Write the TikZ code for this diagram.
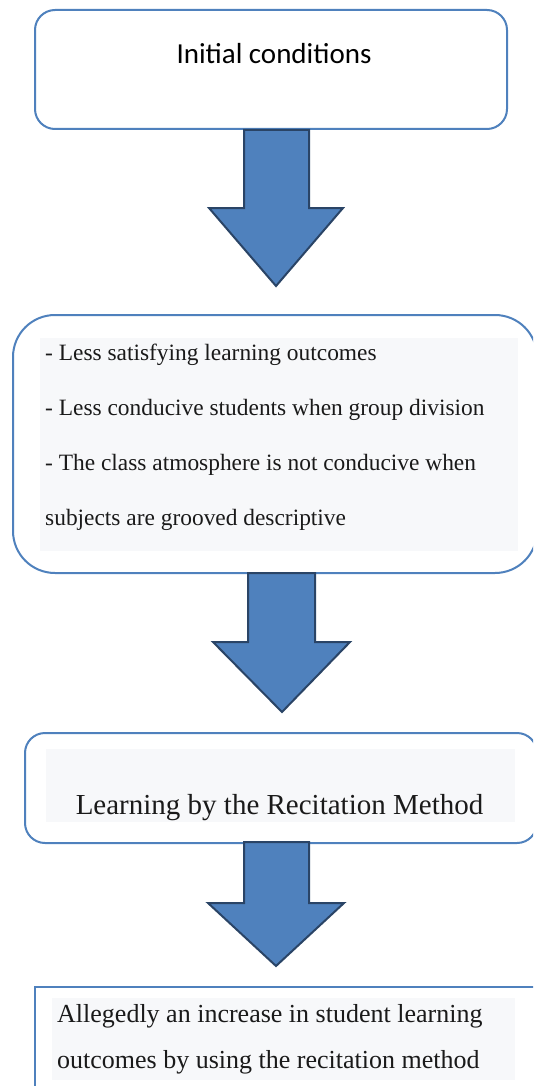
\documentclass[tikz,border=0pt]{standalone}
\usepackage{fontspec}
\setmainfont{Liberation Serif}
\newfontfamily\calibri{Carlito}
\definecolor{boxblue}{HTML}{4F81BD}
\definecolor{arrowedge}{HTML}{2A4466}
\definecolor{panelgrey}{HTML}{F7F8FA}
\definecolor{inktext}{HTML}{1A1A1A}
\tikzset{
  flowbox/.style={draw=boxblue, line width=2pt, fill=white, rectangle, inner sep=0pt, outer sep=0pt},
  panel/.style={fill=panelgrey, draw=none, rectangle, inner sep=0pt, outer sep=0pt},
  blockarrow/.style={fill=boxblue, draw=arrowedge, line width=2pt, line join=miter},
  serifline/.style={anchor=base west, inner sep=0pt, text=inktext},
}
\begin{document}
\begin{tikzpicture}[x=1pt, y=-1pt]
\useasboundingbox (0,0) rectangle (533,1086);
\clip (0,0) rectangle (533,1086);
% boxes
\node[flowbox, rounded corners=20pt, minimum width=472pt, minimum height=119pt] (b1) at (271,69.5) {};
\node[flowbox, rounded corners=42pt, minimum width=524pt, minimum height=258pt] (b2) at (275,444) {};
\node[flowbox, rounded corners=20pt, minimum width=512pt, minimum height=110pt] (b3) at (281,788) {};
\node[flowbox, minimum width=525pt, minimum height=113pt] (b4) at (297.5,1043.5) {};
% grey text panels
\node[panel, minimum width=478pt, minimum height=213pt] (g2) at (279,444.5) {};
\node[panel, minimum width=469pt, minimum height=73pt] (g3) at (280.5,785.5) {};
\node[panel, minimum width=463pt, minimum height=82pt] (g4) at (283.5,1039) {};
% texts
\node[anchor=base, inner sep=0pt, text=black, font=\calibri\fontsize{29}{34}\selectfont] (t1) at (274,64) {Initial conditions};
\node[serifline, font=\fontsize{23.4}{28}\selectfont] (t2a) at (45,360) {- Less satisfying learning outcomes};
\node[serifline, font=\fontsize{23.4}{28}\selectfont] (t2b) at (45,415) {- Less conducive students when group division};
\node[serifline, font=\fontsize{23.4}{28}\selectfont] (t2c) at (45,470) {- The class atmosphere is not conducive when};
\node[serifline, font=\fontsize{23.4}{28}\selectfont] (t2d) at (45,525) {subjects are grooved descriptive};
\node[anchor=base, inner sep=0pt, text=inktext, font=\fontsize{29}{34}\selectfont] (t3) at (279.5,814) {Learning by the Recitation Method};
\node[serifline, font=\fontsize{26}{30}\selectfont] (t4a) at (57,1022) {Allegedly an increase in student learning};
\node[serifline, font=\fontsize{26}{30}\selectfont] (t4b) at (57,1068) {outcomes by using the recitation method};
% block arrows
\draw[blockarrow] (244,130) -- (309,130) -- (309,208) -- (343,208) -- (276,286) -- (209,208) -- (244,208) -- cycle;
\draw[blockarrow] (248,573) -- (315,573) -- (315,642) -- (350,642) -- (282,712) -- (213,642) -- (248,642) -- cycle;
\draw[blockarrow] (244,842) -- (309,842) -- (309,903) -- (344,903) -- (276,966) -- (208,903) -- (244,903) -- cycle;
\end{tikzpicture}
\end{document}
